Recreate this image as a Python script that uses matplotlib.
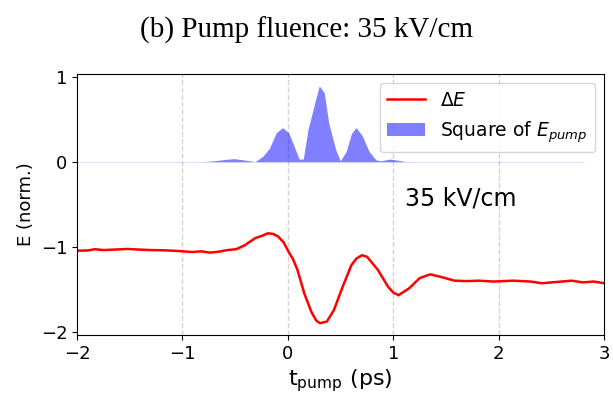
import numpy as np
import matplotlib.pyplot as plt

# Delta E (rod kurve), lest av bildet
t_dE = [-2.0, -1.9, -1.83, -1.75, -1.66, -1.52, -1.4, -1.3, -1.17, -1.05, -0.905, -0.82,
        -0.74, -0.66, -0.573, -0.49, -0.41, -0.31, -0.24, -0.19, -0.14, -0.093, -0.04,
        0.007, 0.05, 0.09, 0.156, 0.222, 0.27, 0.305, 0.37, 0.437, 0.52, 0.603, 0.65,
        0.703, 0.752, 0.852, 0.95, 1.0, 1.05, 1.15, 1.25, 1.35, 1.48, 1.58, 1.7, 1.81,
        1.95, 2.14, 2.3, 2.41, 2.55, 2.69, 2.8, 2.9, 3.0]
dE = [-1.047, -1.045, -1.03, -1.04, -1.035, -1.027, -1.035, -1.04, -1.043, -1.05,
      -1.063, -1.055, -1.07, -1.06, -1.04, -1.03, -0.984, -0.90, -0.87, -0.843, -0.85,
      -0.88, -0.95, -1.06, -1.15, -1.27, -1.55, -1.765, -1.87, -1.90, -1.88, -1.745,
      -1.47, -1.216, -1.14, -1.10, -1.12, -1.27, -1.47, -1.54, -1.57, -1.49, -1.37,
      -1.325, -1.365, -1.40, -1.405, -1.40, -1.41, -1.40, -1.41, -1.43, -1.415, -1.40,
      -1.42, -1.41, -1.43]

# Kvadrat av E_pump (bla flate)
t_pump = [-2.0, -0.8, -0.7, -0.6, -0.51, -0.42, -0.31, -0.24, -0.176, -0.11, -0.05,
          0.007, 0.06, 0.106, 0.146, 0.19, 0.255, 0.298, 0.345, 0.388, 0.454, 0.497,
          0.553, 0.603, 0.646, 0.703, 0.77, 0.835, 0.885, 0.968, 1.05, 1.12, 2.8]
E_pump_sq = [0.0, 0.0, 0.01, 0.025, 0.035, 0.02, 0.0, 0.06, 0.155, 0.34, 0.40,
             0.34, 0.18, 0.03, 0.03, 0.37, 0.69, 0.89, 0.81, 0.45, 0.14, 0.01,
             0.12, 0.33, 0.40, 0.31, 0.12, 0.02, 0.01, 0.03, 0.015, 0.0, 0.0]

fig = plt.figure(figsize=(6.13, 3.98), dpi=100)
ax = fig.add_axes([0.1256, 0.158, 0.86, 0.656])

ax.plot(t_dE, dE, color='red', lw=1.8, label=r'$\Delta E$')
ax.fill_between(t_pump, 0, E_pump_sq, color='blue', alpha=0.5, lw=0,
                label=r'Square of $E_{pump}$')
# svak nullinje under flata
ax.plot(t_pump, np.zeros(len(t_pump)), color='blue', alpha=0.15, lw=0.6)

for xv in [-1, 0, 1, 2]:
    ax.axvline(xv, color='lightgray', ls='--', lw=1, zorder=0)

ax.set_xlim(-2, 3)
ax.set_ylim(-2.04, 1.03)
ax.set_xticks([-2, -1, 0, 1, 2, 3])
ax.set_yticks([-2, -1, 0, 1])
ax.tick_params(labelsize=13)
ax.set_xlabel(r't$_{\rm pump}$ (ps)', fontsize=16, labelpad=3)
ax.set_ylabel('E (norm.)', fontsize=13)
ax.text(1.11, -0.52, '35 kV/cm', fontsize=17)
ax.legend(loc='upper right', fontsize=13.5)

fig.suptitle('(b) Pump fluence: 35 kV/cm', family='Liberation Serif', fontsize=21,
             y=0.958)

fig.savefig('out.png')
